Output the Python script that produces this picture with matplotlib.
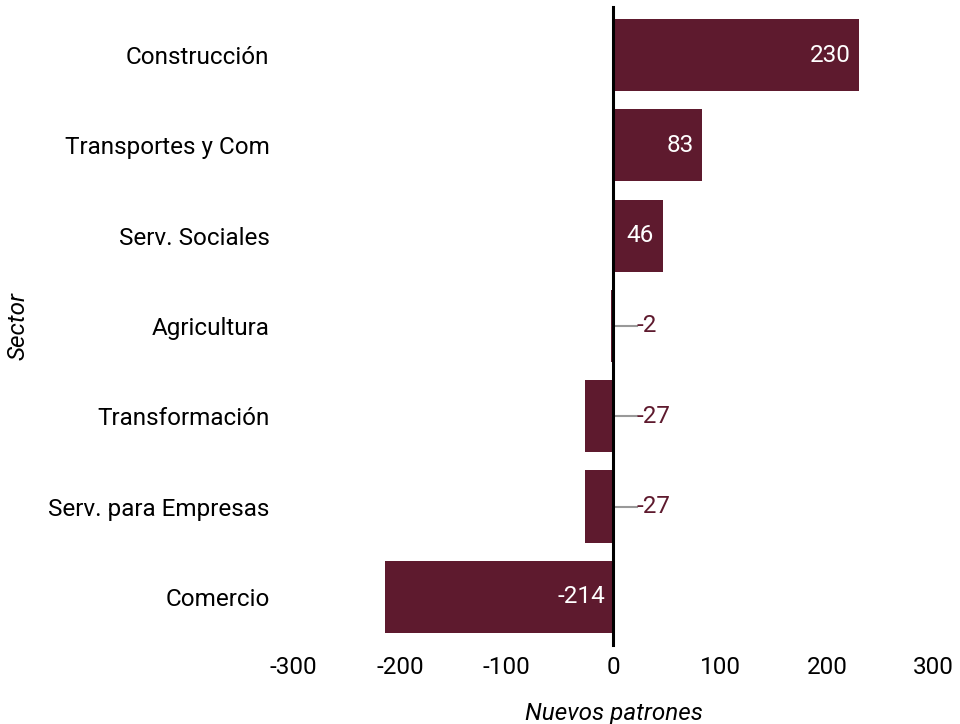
import matplotlib
matplotlib.use("Agg")
import matplotlib.pyplot as plt

plt.rcParams['font.family'] = ['Roboto', 'DejaVu Sans']

sectors = ["Construcción", "Transportes y Com", "Serv. Sociales", "Agricultura",
           "Transformación", "Serv. para Empresas", "Comercio"]
values = [230, 83, 46, -2, -27, -27, -214]
xticks = [-300, -200, -100, 0, 100, 200, 300]

color = "#5E1A2E"
fs = 17.5

fig = plt.figure(figsize=(9.6, 7.24), dpi=100)
ax = fig.add_axes([0.3054, 0.1133, 0.6672, 0.873])

ypos = list(range(len(sectors)))[::-1]
ax.barh(ypos, values, height=0.8, color=color, zorder=2)
ax.axvline(0, ymin=-0.005, ymax=1.004, color="black", lw=2.2, zorder=4, clip_on=False)

for y, v in zip(ypos, values):
    if abs(v) < 40:
        ax.plot([0, 22], [y, y], color="#999999", lw=1.5, zorder=3)
        ax.text(22, y, f"{v}", ha="left", va="center", color=color, fontsize=fs, zorder=5)
    elif v > 0:
        ax.text(v - 8, y, f"{v}", ha="right", va="center", color="white", fontsize=fs, zorder=5)
    else:
        ax.text(-8, y, f"{v}", ha="right", va="center", color="white", fontsize=fs, zorder=5)

ax.set_xlim(-300, 300)
ax.set_ylim(-0.5, len(sectors) - 0.5)
ax.set_xticks(xticks)
ax.set_xticklabels([str(t) for t in xticks])
ax.set_yticks(ypos)
ax.set_yticklabels(sectors)
ax.tick_params(axis="both", length=0, labelsize=fs, colors="black")
ax.tick_params(axis="y", pad=17)
ax.tick_params(axis="x", pad=10)
for s in ax.spines.values():
    s.set_visible(False)

ax.set_xlabel("Nuevos patrones", fontsize=fs, style="italic", labelpad=17)
fig.text(0.019, 0.55, "Sector", rotation=90, fontsize=fs, style="italic", ha="center", va="center")

fig.savefig("out.png", dpi=100)
